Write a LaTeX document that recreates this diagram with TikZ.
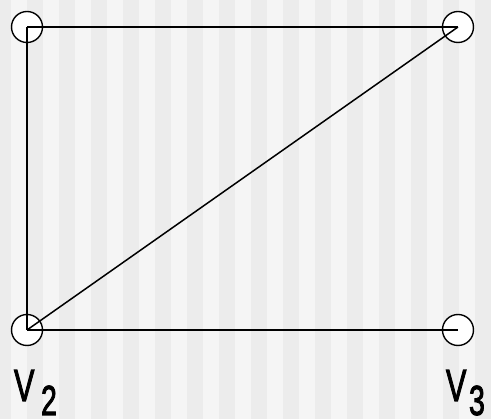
\documentclass[tikz,border=0pt]{standalone}
\usepackage{fontspec}
\setmainfont{Liberation Sans}
\newfontfamily\lblfont[FakeBold=2.5]{Liberation Sans}
\definecolor{stripeA}{HTML}{ECECEC}
\definecolor{stripeB}{HTML}{F5F5F5}
\tikzset{
  vertex/.style={circle, draw=black, line width=1.4pt, fill=white, minimum size=31pt, inner sep=0pt},
  edge/.style={draw=black, line width=1.5pt},
  lbl/.style={anchor=base west, inner sep=0pt, outer sep=0pt}
}
\begin{document}
\begin{tikzpicture}[x=1pt,y=-1pt]
\useasboundingbox (0,0) rectangle (491,419);
\fill[stripeB] (0,0) rectangle (491,419);
\foreach \k in {0,2,...,30} {
  \fill[stripeA] ({-5+16*\k},0) rectangle ({11+16*\k},419);
}
\node[vertex] (a) at (27,27) {};
\node[vertex] (b) at (458,27) {};
\node[vertex] (c) at (27,330) {};
\node[vertex] (d) at (458,330) {};
\draw[edge] (a.center) -- (b.center);
\draw[edge] (a.center) -- (c.center);
\draw[edge] (c.center) -- (b.center);
\draw[edge] (c.center) -- (d.center);
\node[lbl] (v2) at (14,401) {\scalebox{0.68}[1]{\fontsize{45}{45}\lblfont V}};
\node[lbl] (s2) at (41,415) {\scalebox{0.68}[1]{\fontsize{42}{42}\lblfont 2}};
\node[lbl] (v3) at (446,401) {\scalebox{0.68}[1]{\fontsize{45}{45}\lblfont V}};
\node[lbl] (s3) at (469,415) {\scalebox{0.68}[1]{\fontsize{42}{42}\lblfont 3}};
\end{tikzpicture}
\end{document}
